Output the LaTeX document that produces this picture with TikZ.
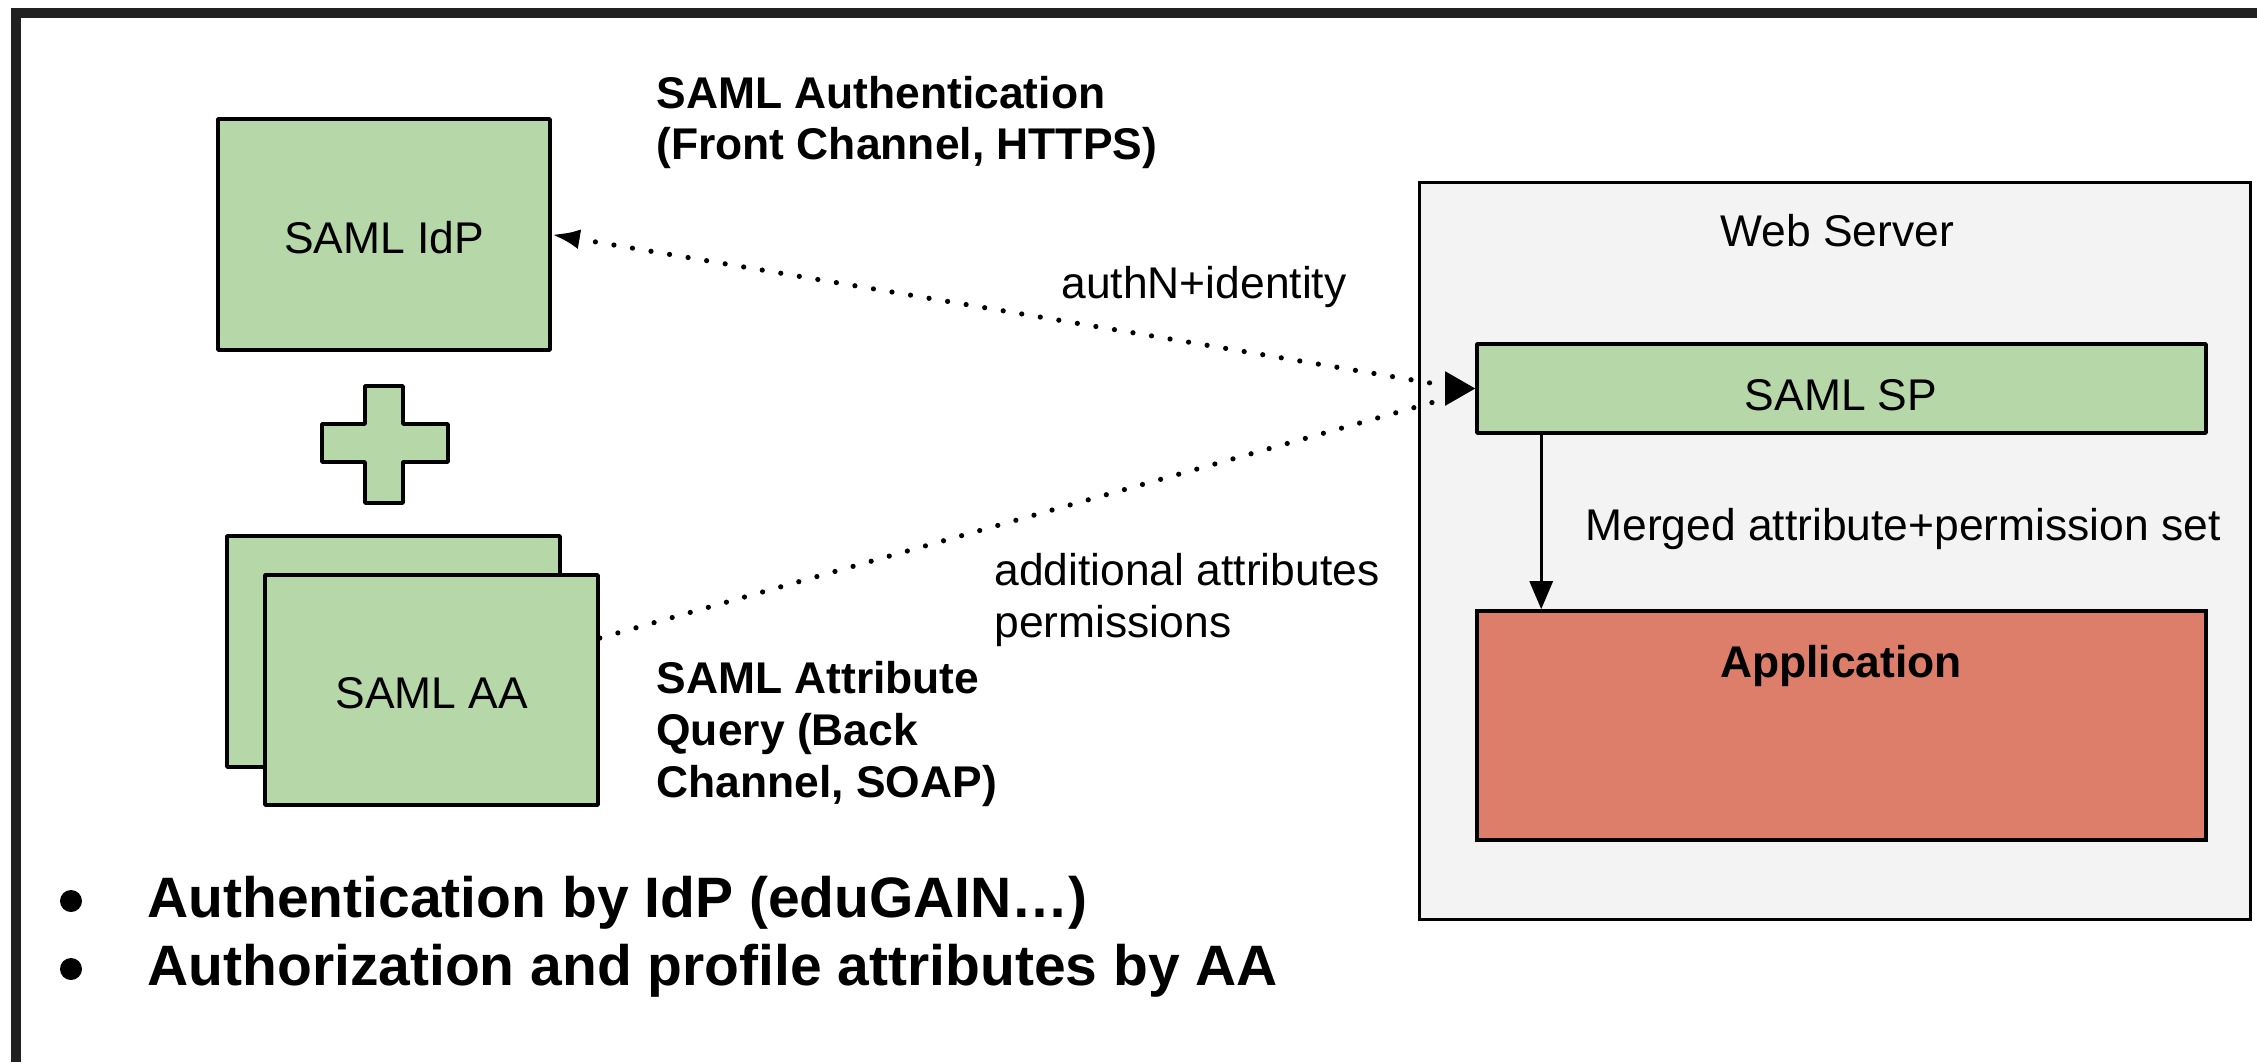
\documentclass[tikz,border=0pt]{standalone}
\usepackage{fontspec}
\setmainfont{Liberation Sans}
\usetikzlibrary{arrows.meta,fit,calc}
\definecolor{boxgreen}{HTML}{B6D7A8}
\definecolor{appred}{HTML}{DD7E6B}
\definecolor{wsgrey}{HTML}{F3F3F3}
\definecolor{framedark}{HTML}{212121}
\begin{document}
\begin{tikzpicture}[x=0.5pt,y=-0.5pt]
\tikzset{
  greenbox/.style={draw=black, fill=boxgreen, line width=1.8pt, inner sep=0pt, line join=round},
  wsbox/.style={draw=black, fill=wsgrey, line width=1.5pt, inner sep=0pt},
  appbox/.style={draw=black, fill=appred, line width=1.8pt, inner sep=0pt},
  lbl/.style={inner sep=0pt, text=black, font=\fontsize{22.2}{25.5}\selectfont},
  blbl/.style={inner sep=0pt, text=black, font=\fontsize{22.2}{25.5}\selectfont\bfseries},
  blblb/.style={inner sep=0pt, text=black, font=\fontsize{22.2}{26}\selectfont\bfseries},
  lblb/.style={inner sep=0pt, text=black, font=\fontsize{22.2}{26}\selectfont},
  bul/.style={inner sep=0pt, text=black, font=\fontsize{28.5}{34}\selectfont\bfseries},
  dotline/.style={line width=2.6pt, line cap=round, dash pattern=on 0pt off 9.4pt},
  solidarrow/.style={line width=1.5pt, -{Triangle[length=14pt,width=11.5pt]}},
}
\useasboundingbox (0,0) rectangle (2257,1062);
\fill[white] (0,0) rectangle (2257,1062);
% screen frame
\fill[framedark] (11,8) rectangle (2257,18);
\fill[framedark] (11,8) rectangle (21,1062);

% left side boxes
\node[greenbox, fit={(218,119)(550,350)}] (idp) {};
\node[lbl, anchor=base] (idplbl) at (384,253) {SAML IdP};

\filldraw[greenbox] (365,386) -- (403,386) -- (403,424) -- (448,424) -- (448,462)
  -- (403,462) -- (403,503) -- (365,503) -- (365,462) -- (322,462) -- (322,424)
  -- (365,424) -- cycle;

\node[greenbox, fit={(227,536)(560,767)}] (aaback) {};
\node[greenbox, fit={(265,575)(598,805)}] (aafront) {};
\node[lbl, anchor=base] (aalbl) at (432,708) {SAML AA};

% web server
\node[wsbox, fit={(1419,182)(2250,919)}] (ws) {};
\node[lbl, anchor=base west] (wslbl) at (1720,246) {Web Server};
\node[greenbox, fit={(1477,344)(2206,433)}] (sp) {};
\node[lbl, anchor=base] (splbl) at (1841,410) {SAML SP};
\node[appbox, fit={(1477,611)(2206,840)}] (app) {};
\node[blbl, anchor=base] (applbl) at (1841,677) {Application};

\draw[solidarrow] ([xshift=33pt]sp.south west) -- ([xshift=33pt]app.north west);
\node[lbl, anchor=base west] (mergedlbl) at (1585,540) {Merged attribute+permission set};

% dotted connectors
\coordinate (c1) at ([xshift=-18pt,yshift=2pt]sp.west);
\coordinate (c2) at ([xshift=-18pt,yshift=-6pt]sp.west);
\draw[dotline, {Latex[length=14pt,width=10pt]}-] (idp.east) -- (c1);
\draw[dotline] ([yshift=26pt]aafront.east) -- (c2);
\draw[line width=1pt, -{Triangle[length=15pt,width=17pt]}] ([xshift=-15pt]sp.west) -- (sp.west);

% labels
\node[blbl, anchor=base west] (authlbl) at (656,108)
  {\begin{tabular}[t]{@{}l@{}}SAML Authentication\\(Front Channel, HTTPS)\end{tabular}};
\node[lbl, anchor=base west] (idlbl) at (1061,298) {authN+identity};
\node[lblb, anchor=base west] (addlbl) at (994,585)
  {\begin{tabular}[t]{@{}l@{}}additional attributes\\permissions\end{tabular}};
\node[blblb, anchor=base west] (querylbl) at (656,693)
  {\begin{tabular}[t]{@{}l@{}}SAML Attribute\\Query (Back\\Channel, SOAP)\end{tabular}};

% bullets
\fill[black] (71,901) circle[radius=11];
\fill[black] (71,969) circle[radius=11];
\node[bul, anchor=base west] (b1) at (147,917) {Authentication by IdP (eduGAIN…)};
\node[bul, anchor=base west] (b2) at (147,985) {Authorization and profile attributes by AA};
\end{tikzpicture}
\end{document}
